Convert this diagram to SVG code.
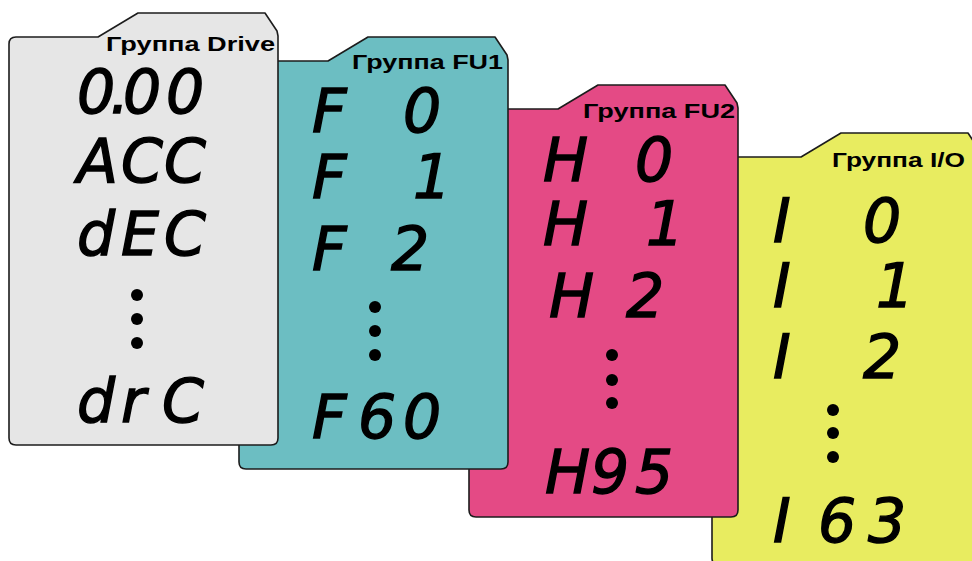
<svg xmlns="http://www.w3.org/2000/svg" xmlns:xlink="http://www.w3.org/1999/xlink" width="972" height="561" viewBox="0 0 972 561">
  <style>
    .card { stroke: #1c1c1c; stroke-width: 1.6; stroke-linejoin: round; }
    .drive { fill: #e6e6e6; }
    .fu1 { fill: #6cbec2; }
    .fu2 { fill: #e44a85; }
    .io { fill: #e8ec60; }
    .label { font-family: "Liberation Sans", Arial, sans-serif; font-weight: bold; font-size: 21px; fill: #000; }
    .seg { font-family: "DejaVu Sans", sans-serif; font-style: oblique; font-size: 60px; fill: #000; stroke: #000; stroke-width: 1.4; }
    .dot { fill: #000; }
  </style>
  <defs>
    <path id="cardShape" d="M 9,44 Q 9,37 16,37 L 98,37 L 138,13 L 265,13 L 277,31 L 278,36 L 278,438 Q 278,445 271,445 L 16,445 Q 9,445 9,438 Z"/>
  </defs>
  <rect width="972" height="561" fill="#ffffff"/>

  <g id="group-io">
    <use xlink:href="#cardShape" href="#cardShape" class="card io" transform="translate(703,120)"/>
    <text class="label" x="832" y="167" textLength="133" lengthAdjust="spacingAndGlyphs">Группа I/O</text>
    <text class="seg" x="773 817 863" y="242">I 0</text>
    <text class="seg" x="773 817 876" y="307">I 1</text>
    <text class="seg" x="773 817 863" y="378">I 2</text>
    <circle class="dot" cx="833" cy="410" r="6"/>
    <circle class="dot" cx="833" cy="433" r="6"/>
    <circle class="dot" cx="833" cy="457" r="6"/>
    <text class="seg" x="773 818 868" y="542">I63</text>
  </g>

  <g id="group-fu2">
    <use xlink:href="#cardShape" href="#cardShape" class="card fu2" transform="translate(460,72)"/>
    <text class="label" x="583" y="118" textLength="152" lengthAdjust="spacingAndGlyphs">Группа FU2</text>
    <text class="seg" x="543 588 635" y="181">H 0</text>
    <text class="seg" x="543 588 646" y="245">H 1</text>
    <text class="seg" x="549 588 626" y="317">H 2</text>
    <circle class="dot" cx="612" cy="355" r="6"/>
    <circle class="dot" cx="612" cy="380" r="6"/>
    <circle class="dot" cx="612" cy="403" r="6"/>
    <text class="seg" x="545 591 635" y="493">H95</text>
  </g>

  <g id="group-fu1">
    <use xlink:href="#cardShape" href="#cardShape" class="card fu1" transform="translate(230,24)"/>
    <text class="label" x="352" y="69" textLength="151" lengthAdjust="spacingAndGlyphs">Группа FU1</text>
    <text class="seg" x="312 355 403" y="132">F 0</text>
    <text class="seg" x="312 355 413" y="198">F 1</text>
    <text class="seg" x="312 355 391" y="270">F 2</text>
    <circle class="dot" cx="375" cy="307" r="6"/>
    <circle class="dot" cx="375" cy="331" r="6"/>
    <circle class="dot" cx="375" cy="355" r="6"/>
    <text class="seg" x="312 358 403" y="438">F60</text>
  </g>

  <g id="group-drive">
    <use xlink:href="#cardShape" href="#cardShape" class="card drive"/>
    <text class="label" x="106" y="51" textLength="169" lengthAdjust="spacingAndGlyphs">Группа Drive</text>
    <text class="seg" x="77 110 123 166" y="113">0.00</text>
    <text class="seg" x="77 121 164" y="182">ACC</text>
    <text class="seg" x="77 121 164" y="255">dEC</text>
    <circle class="dot" cx="137" cy="295" r="6"/>
    <circle class="dot" cx="137" cy="319" r="6"/>
    <circle class="dot" cx="137" cy="343" r="6"/>
    <text class="seg" x="77 121 162" y="422">drC</text>
  </g>
</svg>
